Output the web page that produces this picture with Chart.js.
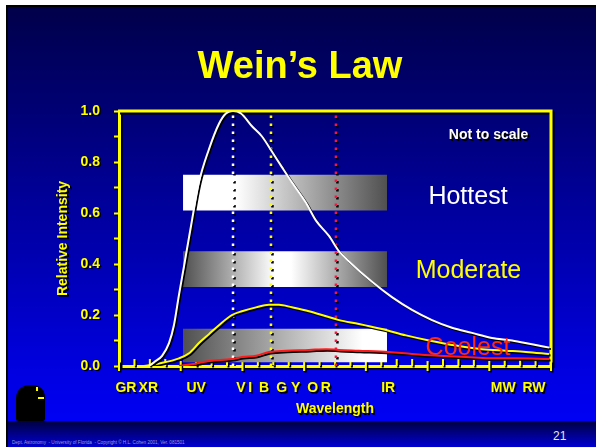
<!DOCTYPE html>
<html>
<head>
<meta charset="utf-8">
<script src="https://cdn.jsdelivr.net/npm/chart.js@4.4.1/dist/chart.umd.min.js"></script>
<style>
  html, body { margin: 0; padding: 0; background: #fff; }
  #slide  { position: relative; width: 596px; height: 447px; overflow: hidden; background: #fff; }
  #edge   { position: absolute; left: 6px; top: 5px; right: 0; bottom: 0; background: #000; }
  #main   { position: absolute; left: 8px; top: 7px; right: 0; height: 414px; background: linear-gradient(#00004a, #0000f5); }
  #footer { position: absolute; left: 8px; top: 421px; right: 0; bottom: 0; background: linear-gradient(#000040, #0000d2); }
  #head   { position: absolute; left: 16px; top: 385px; width: 29px; height: 36px; background: #000; border-radius: 13px 12px 2px 2px; }
  #eye1   { position: absolute; left: 36px; top: 387px; width: 2px; height: 4px; background: #ffff00; }
  #eye2   { position: absolute; left: 38px; top: 397px; width: 6px; height: 2px; background: #ffff00; }
  #credit { position: absolute; left: 12px; top: 440px; font: 4.6px 'Liberation Sans', sans-serif; color: #9a9ad8; white-space: nowrap; }
  #page   { position: absolute; left: 553px; top: 429px; font: 12px 'Liberation Sans', sans-serif; color: #e8e8e8; }
  #wrap   { position: absolute; left: 0; top: 0; width: 596px; height: 447px; }
</style>
</head>
<body>
<div id="slide">
  <div id="edge"></div>
  <div id="main"></div>
  <div id="footer"></div>
  <div id="head"></div><div id="eye1"></div><div id="eye2"></div>
  <div id="credit">Dept. Astronomy &nbsp;- University of Florida &nbsp;- Copyright © H.L. Cohen 2001, Ver. 081501</div>
  <div id="page">21</div>
  <div id="wrap"><canvas id="chart"></canvas></div>
</div>
<script>
// Band labels along the wavelength axis
const bandLabels    = ['GR', 'XR', 'UV', 'V', 'I', 'B', 'G', 'Y', 'O', 'R', 'IR', 'MW', 'RW'];
const bandPositions = [0.45, 1.9, 5.0, 7.9, 8.5, 9.4, 10.55, 11.45, 12.55, 13.4, 17.45, 24.9, 26.9];

// Hottest (white) curve
const hotX = [1.94, 2.27, 2.79, 3.24, 3.56, 3.89, 4.21, 4.67, 5.18, 5.83, 6.48, 6.93, 7.39, 7.91, 8.62, 9.27,
              9.92, 10.56, 11.21, 12.12, 12.77, 13.61, 14.26, 14.91, 16.4, 17.69, 18.99, 20.29, 21.58, 22.88,
              24.17, 25.47, 26.77, 27.9];
const hotY = [0, 0.015, 0.04, 0.09, 0.16, 0.28, 0.39, 0.55, 0.72, 0.85, 0.95, 0.99, 1.0, 0.99, 0.94, 0.9,
              0.84, 0.78, 0.72, 0.64, 0.57, 0.51, 0.45, 0.41, 0.33, 0.27, 0.22, 0.18, 0.15, 0.13,
              0.11, 0.10, 0.085, 0.072];

// Moderate (yellow) curve
const modX = [1.62, 2.59, 3.89, 4.54, 5.18, 5.83, 6.48, 7.32, 7.97, 8.88, 9.72, 10.37, 11.21, 12.31, 13.42,
              14.26, 15.55, 17.04, 18.6, 20.09, 21.84, 23.53, 25.08, 26.38, 27.87];
const modY = [0, 0.01, 0.03, 0.05, 0.09, 0.125, 0.16, 0.2, 0.215, 0.23, 0.24, 0.24, 0.23, 0.215, 0.195,
              0.18, 0.165, 0.145, 0.12, 0.10, 0.08, 0.066, 0.06, 0.055, 0.047];

// Coolest (red) curve
const coolX = [3.89, 5.18, 5.83, 7.32, 7.97, 8.88, 9.72, 10.82, 12.31, 13.42, 14.26, 15.55, 17.5, 18.99,
               20.74, 22.49, 23.98, 25.73, 27.87];
const coolY = [0, 0.012, 0.02, 0.027, 0.035, 0.04, 0.055, 0.06, 0.063, 0.066, 0.063, 0.06, 0.055, 0.047,
               0.04, 0.035, 0.03, 0.03, 0.027];

// Peak wavelength markers
const peakX      = [7.39, 9.85, 14.06];
const peakColors = ['#ffffff', '#ffff00', '#ff1040'];

// Grey bands behind the curves
const bandStart = 4.15;
const bandEnd   = 17.37;
const hotBand   = [0.61, 0.75];
const modBand   = [0.31, 0.45];
const coolBand  = [0.015, 0.146];

const xMax = 28;

const pts = (xs, ys) => xs.map((x, i) => ({ x, y: ys[i] }));

function shadowOn(ctx, d) {
  ctx.shadowColor = '#000';
  ctx.shadowOffsetX = d;
  ctx.shadowOffsetY = d;
  ctx.shadowBlur = 0;
}
function shadowOff(ctx) {
  ctx.shadowColor = 'rgba(0,0,0,0)';
  ctx.shadowOffsetX = 0;
  ctx.shadowOffsetY = 0;
}

function bandGradient(stops) {
  return (c) => {
    const chart = c.chart;
    if (!chart.chartArea) return '#888';
    const x = chart.scales.x;
    const g = chart.ctx.createLinearGradient(x.getPixelForValue(bandStart), 0, x.getPixelForValue(bandEnd), 0);
    stops.forEach(([p, col]) => g.addColorStop(p, col));
    return g;
  };
}

function bandSets(range, stops) {
  return [
    { data: [{ x: bandStart, y: range[1] }, { x: bandEnd, y: range[1] }], fill: '+1',
      backgroundColor: bandGradient(stops), borderWidth: 0, pointRadius: 0, order: 3 },
    { data: [{ x: bandStart, y: range[0] }, { x: bandEnd, y: range[0] }], fill: false,
      borderWidth: 0, pointRadius: 0, order: 3 }
  ];
}

const curve = (data, color) => ({
  data, borderColor: color, borderWidth: 2, pointRadius: 0, fill: false,
  cubicInterpolationMode: 'monotone', shadow: true, order: 1
});

const markers = peakX.map((x, i) => ({
  data: [{ x, y: 0 }, { x, y: 1 }], borderColor: peakColors[i], borderWidth: 2.5,
  borderDash: [2.5, 5.5], pointRadius: 0, fill: false, shadow: true, order: 2
}));

// Text inside the plot, placed in data units
const notes = [
  { text: 'Not to scale', x: 23.95, y: 0.89,  color: '#ffffff', font: 'bold 14px "Liberation Sans", Arial, sans-serif', shadow: true },
  { text: 'Hottest',      x: 22.62, y: 0.635, color: '#ffffff', font: '25px "Liberation Sans", Arial, sans-serif' },
  { text: 'Moderate',     x: 22.65, y: 0.345, color: '#ffff00', font: '25px "Liberation Sans", Arial, sans-serif' },
  { text: 'Coolest',      x: 22.62, y: 0.045, color: '#ff2a10', font: '25px "Liberation Sans", Arial, sans-serif' }
];

const slidePlugin = {
  id: 'slide',
  beforeDraw(chart) {
    chart.ctx.save();
    shadowOn(chart.ctx, 1.5);
  },
  beforeDatasetsDraw(chart) {
    const { ctx, chartArea: a, scales: { x } } = chart;
    ctx.save();
    shadowOn(ctx, 2);
    ctx.strokeStyle = '#ffff00';
    ctx.lineWidth = 3;
    ctx.beginPath();
    ctx.moveTo(a.left - 1, a.top);
    ctx.lineTo(a.right, a.top);
    ctx.lineTo(a.right, a.bottom);
    ctx.stroke();
    // wavelength tick marks
    shadowOn(ctx, 1.5);
    ctx.lineWidth = 2;
    ctx.beginPath();
    for (let v = 0; v <= xMax; v++) {
      const px = x.getPixelForValue(v);
      if (v % 4 === 0) { ctx.moveTo(px, a.bottom - 5); ctx.lineTo(px, a.bottom + 5); }
      else { ctx.moveTo(px, a.bottom - 7); ctx.lineTo(px, a.bottom); }
    }
    ctx.stroke();
    ctx.restore();
    shadowOff(ctx);
  },
  beforeDatasetDraw(chart, args) {
    if (chart.data.datasets[args.index].shadow) shadowOn(chart.ctx, 1.5);
  },
  afterDatasetDraw(chart) {
    shadowOff(chart.ctx);
  },
  afterDatasetsDraw(chart) {
    const { ctx, scales: { x, y } } = chart;
    ctx.save();
    ctx.textAlign = 'center';
    ctx.textBaseline = 'alphabetic';
    notes.forEach(n => {
      if (n.shadow) shadowOn(ctx, 1.5); else shadowOff(ctx);
      ctx.font = n.font;
      ctx.fillStyle = n.color;
      ctx.fillText(n.text, x.getPixelForValue(n.x), y.getPixelForValue(n.y));
    });
    ctx.restore();
  },
  afterDraw(chart) {
    const ctx = chart.ctx;
    ctx.restore();
    ctx.save();
    shadowOff(ctx);
    ctx.font = 'bold 38px "Liberation Sans", Arial, sans-serif';
    ctx.fillStyle = '#ffff00';
    ctx.textAlign = 'center';
    ctx.textBaseline = 'alphabetic';
    ctx.fillText('Wein\u2019s Law', 300, 78);
    ctx.restore();
  }
};

const axisFont = { family: '"Liberation Sans", Arial, sans-serif', size: 14, weight: 'bold' };

new Chart(document.getElementById('chart'), {
  type: 'line',
  data: {
    datasets: [
      curve(pts(hotX, hotY), '#ffffff'),
      curve(pts(modX, modY), '#ffff00'),
      curve(pts(coolX, coolY), '#ff1a1a'),
      ...markers,
      ...bandSets(hotBand,  [[0, '#ffffff'], [0.26, '#ffffff'], [1, '#505050']]),
      ...bandSets(modBand,  [[0, '#505050'], [0.45, '#ffffff'], [0.53, '#ffffff'], [1, '#505050']]),
      ...bandSets(coolBand, [[0, '#505050'], [0.88, '#ffffff'], [1, '#ffffff']])
    ]
  },
  options: {
    responsive: true,
    maintainAspectRatio: false,
    animation: false,
    events: [],
    layout: { padding: { top: 111, right: 45, left: 0, bottom: 0 } },
    plugins: { legend: { display: false }, tooltip: { enabled: false }, title: { display: false } },
    scales: {
      x: {
        type: 'linear',
        min: 0,
        max: xMax,
        afterFit: s => { s.height = 81; },
        afterBuildTicks: s => { s.ticks = bandPositions.map(v => ({ value: v })); },
        grid: { display: true, drawOnChartArea: false, drawTicks: false, color: '#ffff00' },
        border: { color: '#ffff00', width: 3 },
        ticks: {
          autoSkip: false, maxRotation: 0, padding: 14, color: '#ffff00', font: axisFont,
          callback: (v, i) => bandLabels[i]
        },
        title: { display: true, text: 'Wavelength', color: '#ffff00', font: axisFont, padding: { top: 0, bottom: 29 } }
      },
      y: {
        min: 0,
        max: 1,
        afterFit: s => { s.width = 119; },
        grid: { drawOnChartArea: false, drawTicks: true, tickLength: 5, tickWidth: 2, tickColor: '#ffff00', color: '#ffff00' },
        border: { color: '#ffff00', width: 3 },
        ticks: {
          stepSize: 0.1, padding: 14, color: '#ffff00', font: axisFont,
          callback: v => (Math.round(v * 10) % 2 === 0 ? v.toFixed(1) : '')
        },
        title: { display: true, text: 'Relative Intensity', color: '#ffff00', font: axisFont, padding: { top: 55, bottom: 0 } }
      }
    }
  },
  plugins: [slidePlugin]
});
</script>
</body>
</html>
